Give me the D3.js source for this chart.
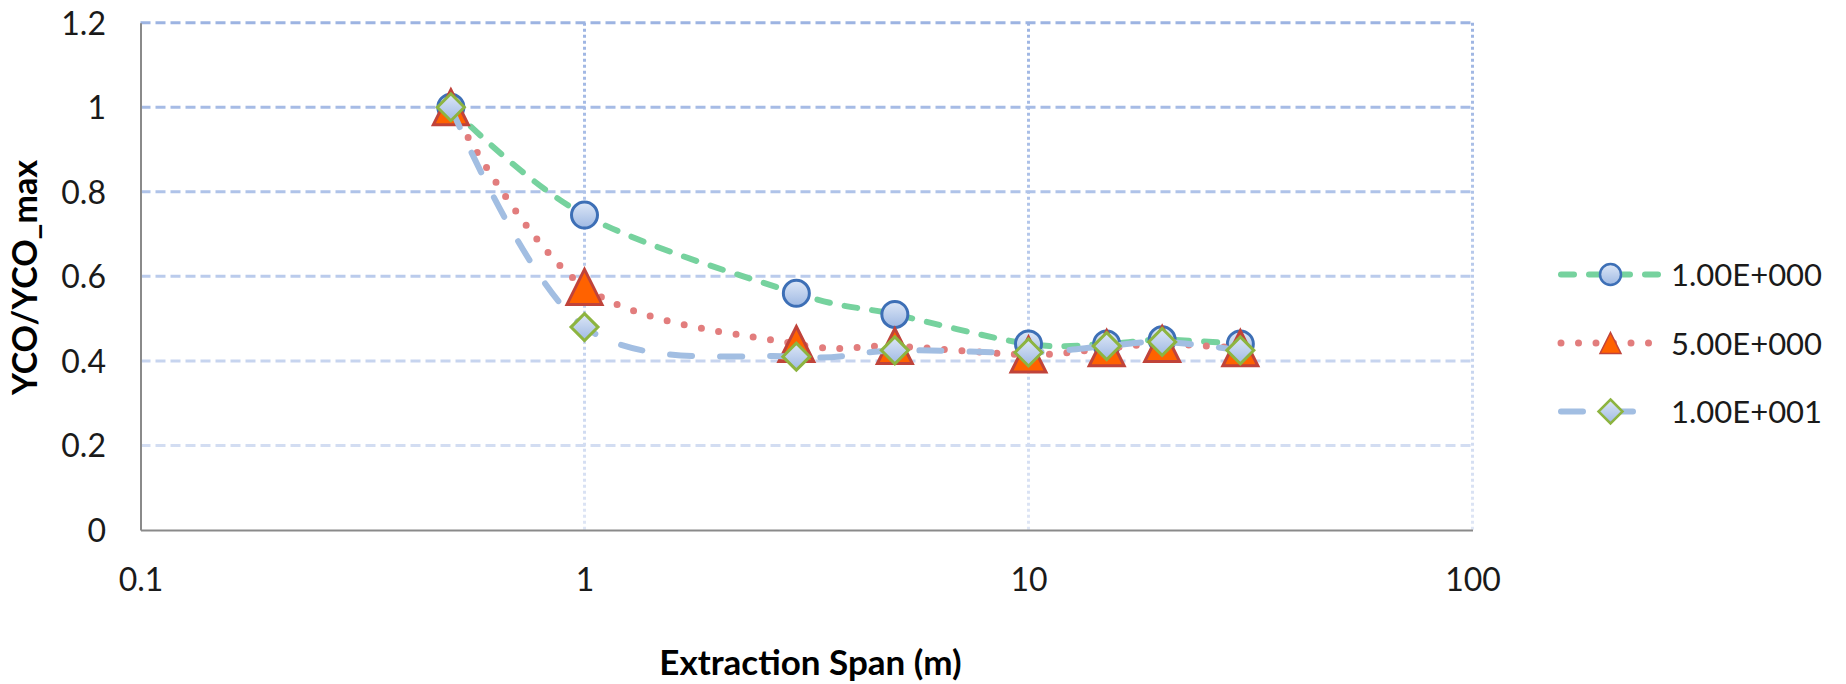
<!DOCTYPE html>
<html>
<head>
<meta charset="utf-8">
<script src="https://cdn.jsdelivr.net/npm/d3@7"></script>
<style>
  html, body { margin: 0; padding: 0; background: #fff; }
  svg { display: block; }
  text { font-family: Lato, "Open Sans", sans-serif; }
</style>
</head>
<body>
<svg id="chart" width="1846" height="684"></svg>
<script>
// Extraction span (m) at which YCO/YCO_max was evaluated
const spans = [0.5, 1, 3, 5, 10, 15, 20, 30];

// One list of ratios per parameter value
const ratio1e0 = [1.00, 0.745, 0.56, 0.51, 0.44, 0.44, 0.45, 0.44];
const ratio5e0 = [1.00, 0.575, 0.44, 0.435, 0.415, 0.43, 0.44, 0.43];
const ratio1e1 = [1.00, 0.48, 0.41, 0.425, 0.42, 0.435, 0.445, 0.425];

const seriesNames = ["1.00E+000", "5.00E+000", "1.00E+001"];

const xTicks = [0.1, 1, 10, 100];
const xTickLabels = ["0.1", "1", "10", "100"];
const yTicks = [0, 0.2, 0.4, 0.6, 0.8, 1, 1.2];
const yTickLabels = ["0", "0.2", "0.4", "0.6", "0.8", "1", "1.2"];

const xTitle = "Extraction Span (m)";
const yTitle = "YCO/YCO_max";

// ---- layout ----
const plot = { left: 140.5, right: 1472.5, top: 22.7, bottom: 530 };

const x = d3.scaleLog().domain([0.1, 100]).range([plot.left, plot.right]);
const y = d3.scaleLinear().domain([0, 1.2]).range([plot.bottom, plot.top]);

const svg = d3.select("#chart");
const defs = svg.append("defs");

// gridlines fade from a stronger blue at the top to a pale blue at the bottom
const gridGrad = defs.append("linearGradient")
  .attr("id", "gridFade")
  .attr("gradientUnits", "userSpaceOnUse")
  .attr("x1", 0).attr("y1", plot.top).attr("x2", 0).attr("y2", plot.bottom);
gridGrad.append("stop").attr("offset", 0).attr("stop-color", "#9db4e2");
gridGrad.append("stop").attr("offset", 0.4).attr("stop-color", "#b3c6ea");
gridGrad.append("stop").attr("offset", 1).attr("stop-color", "#dfe6f5");

// soft blue fill used by circle and diamond markers
const markFill = defs.append("linearGradient")
  .attr("id", "markFill").attr("x1", 0).attr("y1", 0).attr("x2", 0).attr("y2", 1);
markFill.append("stop").attr("offset", 0).attr("stop-color", "#dde7f7");
markFill.append("stop").attr("offset", 1).attr("stop-color", "#9fb9e3");

// ---- gridlines ----
const grid = svg.append("g").attr("class", "grid");
grid.selectAll("line.h")
  .data(yTicks.filter(d => d > 0))
  .join("line")
  .attr("class", "h")
  .attr("x1", plot.left).attr("x2", plot.right)
  .attr("y1", d => y(d)).attr("y2", d => y(d))
  .attr("stroke", "url(#gridFade)")
  .attr("stroke-width", 3)
  .attr("stroke-dasharray", "10,5");

grid.selectAll("line.v")
  .data(xTicks.filter(d => d > 0.1))
  .join("line")
  .attr("class", "v")
  .attr("x1", d => x(d)).attr("x2", d => x(d))
  .attr("y1", plot.top).attr("y2", plot.bottom)
  .attr("stroke", "url(#gridFade)")
  .attr("stroke-width", 3)
  .attr("stroke-dasharray", "3,3");

// ---- axes ----
const yAxis = d3.axisLeft(y)
  .tickValues(yTicks)
  .tickFormat((d, i) => yTickLabels[i])
  .tickSize(0)
  .tickPadding(34.5);

const xAxis = d3.axisBottom(x)
  .tickValues(xTicks)
  .tickFormat((d, i) => xTickLabels[i])
  .tickSize(0)
  .tickPadding(38.5);

const gy = svg.append("g").attr("transform", `translate(${plot.left},0)`).call(yAxis);
const gx = svg.append("g").attr("transform", `translate(0,${plot.bottom})`).call(xAxis);

[gx, gy].forEach(g => {
  g.select(".domain").attr("stroke", "#8a8a8a").attr("stroke-width", 2);
  g.selectAll("text")
    .attr("font-family", "Lato, 'Open Sans', sans-serif")
    .attr("font-size", 32)
    .attr("fill", "#1a1a1a");
});
gy.selectAll("text").attr("dy", "0.36em");

// ---- axis titles ----
svg.append("text")
  .attr("x", (plot.left + plot.right) / 2 + 4)
  .attr("y", 675)
  .attr("text-anchor", "middle")
  .attr("font-size", 35)
  .attr("font-weight", "bold")
  .attr("fill", "#000")
  .text(xTitle);

svg.append("text")
  .attr("transform", "translate(37,277.5) rotate(-90)")
  .attr("text-anchor", "middle")
  .attr("font-size", 34)
  .attr("font-weight", "bold")
  .attr("fill", "#000")
  .text(yTitle);

// ---- marker shapes ----
function circleShape(g, r, sw) {
  return g.append("circle").attr("r", r)
    .attr("fill", "url(#markFill)").attr("stroke", "#3d6fb6").attr("stroke-width", sw);
}
function triangleShape(g, h, sw) {
  return g.append("path")
    .attr("d", `M0,${-h} L${h},${h} L${-h},${h} Z`)
    .attr("fill", "#ff6200").attr("stroke", "#c0433a").attr("stroke-width", sw)
    .attr("stroke-linejoin", "miter");
}
function diamondShape(g, h, sw) {
  return g.append("path")
    .attr("d", `M0,${-h} L${h},0 L0,${h} L${-h},0 Z`)
    .attr("fill", "url(#markFill)").attr("stroke", "#8db440").attr("stroke-width", sw);
}

const series = [
  { name: seriesNames[0], values: ratio1e0, color: "#76d29e", width: 6, dash: "13,15", legendEnd: 1662,
    marker: (g, legend) => circleShape(g, legend ? 10.5 : 13, legend ? 2.5 : 3) },
  { name: seriesNames[1], values: ratio5e0, color: "#e27d7d", width: 7, dash: "0,17.5", legendEnd: 1662,
    marker: (g, legend) => triangleShape(g, legend ? 10.5 : 17.5, legend ? 1.5 : 3) },
  { name: seriesNames[2], values: ratio1e1, color: "#a2bee2", width: 6, dash: "22,28", legendEnd: 1638,
    marker: (g, legend) => diamondShape(g, legend ? 12 : 13.5, legend ? 2.5 : 3) }
];

const line = d3.line()
  .x(d => x(d.span))
  .y(d => y(d.v))
  .curve(d3.curveCatmullRom.alpha(0));

// each series: smoothed line, then its markers on top
series.forEach(s => {
  const pts = spans.map((span, i) => ({ span, v: s.values[i] }));
  svg.append("path")
    .datum(pts)
    .attr("d", line)
    .attr("fill", "none")
    .attr("stroke", s.color)
    .attr("stroke-width", s.width)
    .attr("stroke-linecap", "round")
    .attr("stroke-dasharray", s.dash);

  const mg = svg.append("g");
  pts.forEach(p => {
    const g = mg.append("g").attr("transform", `translate(${x(p.span)},${y(p.v)})`);
    s.marker(g, false);
  });
});

// ---- legend ----
const legendRows = [274.5, 343, 411.5];
const legend = svg.append("g");
series.forEach((s, i) => {
  const row = legend.append("g").attr("transform", `translate(0,${legendRows[i]})`);
  row.append("line")
    .attr("x1", 1561).attr("x2", s.legendEnd)
    .attr("stroke", s.color)
    .attr("stroke-width", s.width)
    .attr("stroke-linecap", "round")
    .attr("stroke-dasharray", s.dash);
  const mg = row.append("g").attr("transform", "translate(1610.5,0)");
  s.marker(mg, true);
  row.append("text")
    .attr("x", 1671)
    .attr("y", 11.5)
    .attr("font-size", 31)
    .attr("fill", "#1a1a1a")
    .text(s.name);
});
</script>
</body>
</html>
